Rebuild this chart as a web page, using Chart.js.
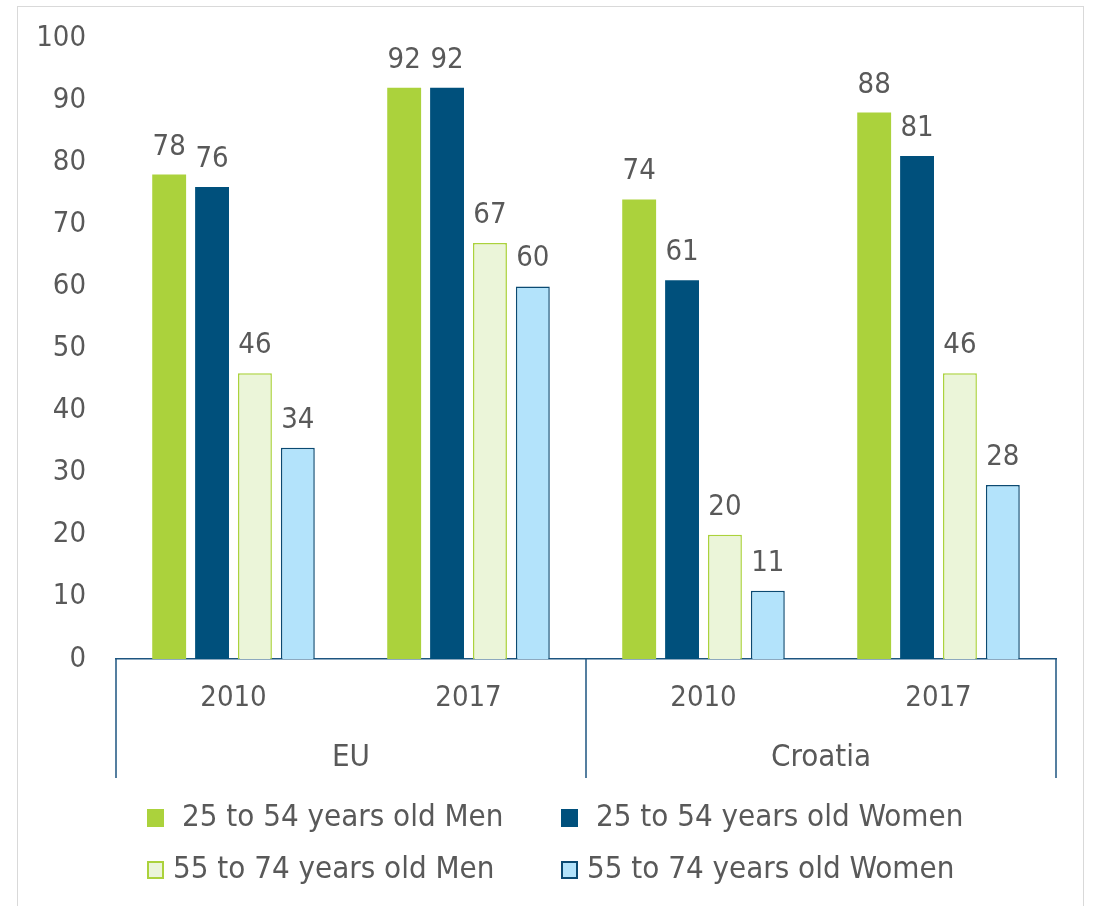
<!DOCTYPE html>
<html>
<head>
<meta charset="utf-8">
<script src="https://cdn.jsdelivr.net/npm/chart.js@4/dist/chart.umd.min.js"></script>
<style>
  html, body { margin: 0; padding: 0; background: #fff; }
  #wrap { position: relative; width: 1094px; height: 906px; }
  #frame { position: absolute; left: 17px; top: 6px; width: 1067px; height: 920px; border: 1px solid #d9d9d9; box-sizing: border-box; }
  canvas { position: absolute; left: 0; top: 0; }
</style>
</head>
<body>
<div id="wrap">
  <div id="frame"></div>
  <canvas id="grafico" width="1094" height="906"></canvas>
</div>
<script>
// categorias do eixo x
const anos = ['2010', '2017', '2010', '2017'];
const grupos = ['EU', 'Croatia'];
const escalaY = [0, 10, 20, 30, 40, 50, 60, 70, 80, 90, 100];

// séries
const homens2554 = [78, 92, 74, 88];
const mulheres2554 = [76, 92, 61, 81];
const homens5574 = [46, 67, 20, 46];
const mulheres5574 = [34, 60, 11, 28];

const nomesSeries = [
    '25 to 54 years old Men',
    '25 to 54 years old Women',
    '55 to 74 years old Men',
    '55 to 74 years old Women'
];

const fonte = '"DejaVu Sans Condensed", "DejaVu Sans", sans-serif';
const corTexto = '#595959';
const azulEixo = '#1d5580';

// rótulos de valor em cima de cada barra
const rotulosBarras = {
    id: 'rotulosBarras',
    afterDatasetsDraw(chart) {
        const ctx = chart.ctx;
        ctx.save();
        ctx.font = '29px ' + fonte;
        ctx.fillStyle = corTexto;
        ctx.textAlign = 'center';
        ctx.textBaseline = 'bottom';
        chart.data.datasets.forEach(function(ds, i) {
            chart.getDatasetMeta(i).data.forEach(function(bar, j) {
                ctx.fillText(ds.data[j], bar.x, bar.y - 13);
            });
        });
        ctx.restore();
    }
};

// eixo de dois níveis (ano / região) e legenda em duas colunas
const eixoGrupos = {
    id: 'eixoGrupos',
    afterDraw(chart) {
        const ctx = chart.ctx;
        const x = chart.scales.x;
        const area = chart.chartArea;
        const fim = area.bottom + 119;
        ctx.save();
        ctx.strokeStyle = azulEixo;
        ctx.lineWidth = 1.5;
        const limites = [area.left, (x.getPixelForTick(1) + x.getPixelForTick(2)) / 2, area.right];
        limites.forEach(function(px) {
            ctx.beginPath();
            ctx.moveTo(px, area.bottom);
            ctx.lineTo(px, fim);
            ctx.stroke();
        });
        ctx.font = '31px ' + fonte;
        ctx.fillStyle = corTexto;
        ctx.textAlign = 'center';
        ctx.textBaseline = 'middle';
        grupos.forEach(function(g, i) {
            const cx = (limites[i] + limites[i + 1]) / 2;
            ctx.fillText(g, cx, area.bottom + 99);
        });

        // legenda
        const colunas = [147, 561];
        const linhas = [818, 870];
        ctx.textAlign = 'left';
        chart.data.datasets.forEach(function(ds, i) {
            const lx = colunas[i % 2];
            const ly = linhas[Math.floor(i / 2)];
            ctx.fillStyle = ds.backgroundColor;
            ctx.fillRect(lx, ly - 9, 17, 18);
            if (i >= 2) {
                ctx.strokeStyle = ds.borderColor;
                ctx.lineWidth = 2;
                ctx.strokeRect(lx + 1, ly - 8, 15, 16);
            }
            ctx.fillStyle = corTexto;
            ctx.fillText(ds.label, lx + (i < 2 ? 35 : 26), ly);
        });
        ctx.restore();
    }
};

const ctx = document.getElementById('grafico').getContext('2d');
new Chart(ctx, {
    type: 'bar',
    data: {
        labels: anos,
        datasets: [
            { label: nomesSeries[0], data: homens2554, backgroundColor: '#abd23c', borderColor: '#abd23c', borderWidth: 0 },
            { label: nomesSeries[1], data: mulheres2554, backgroundColor: '#00507c', borderColor: '#00507c', borderWidth: 0 },
            { label: nomesSeries[2], data: homens5574, backgroundColor: '#ebf5d9', borderColor: '#abd23c', borderWidth: 1.5 },
            { label: nomesSeries[3], data: mulheres5574, backgroundColor: '#b3e3fb', borderColor: '#0b4a72', borderWidth: 1.5 }
        ]
    },
    options: {
        responsive: false,
        animation: false,
        layout: { padding: { top: 38, right: 38, bottom: 127, left: 0 } },
        datasets: { bar: { categoryPercentage: 0.73, barPercentage: 0.79 } },
        plugins: {
            legend: { display: false },
            tooltip: { enabled: false }
        },
        scales: {
            x: {
                grid: { display: false, drawTicks: false },
                border: { display: true, color: azulEixo, width: 1.5 },
                ticks: { font: { family: fonte, size: 29 }, color: corTexto, padding: 22 },
                afterFit: function(s) { s.height = 120; }
            },
            y: {
                min: 0,
                max: 100,
                afterBuildTicks: function(s) { s.ticks = escalaY.map(v => ({ value: v })); },
                grid: { display: false, drawTicks: false },
                border: { display: false },
                ticks: { font: { family: fonte, size: 29 }, color: corTexto, padding: 30 },
                afterFit: function(s) {
                    s.width = 116;
                    // o padding dos rótulos não deve empurrar a área do gráfico
                    s.paddingTop = 0;
                    s.paddingBottom = 0;
                }
            }
        }
    },
    plugins: [rotulosBarras, eixoGrupos]
});
</script>
</body>
</html>
